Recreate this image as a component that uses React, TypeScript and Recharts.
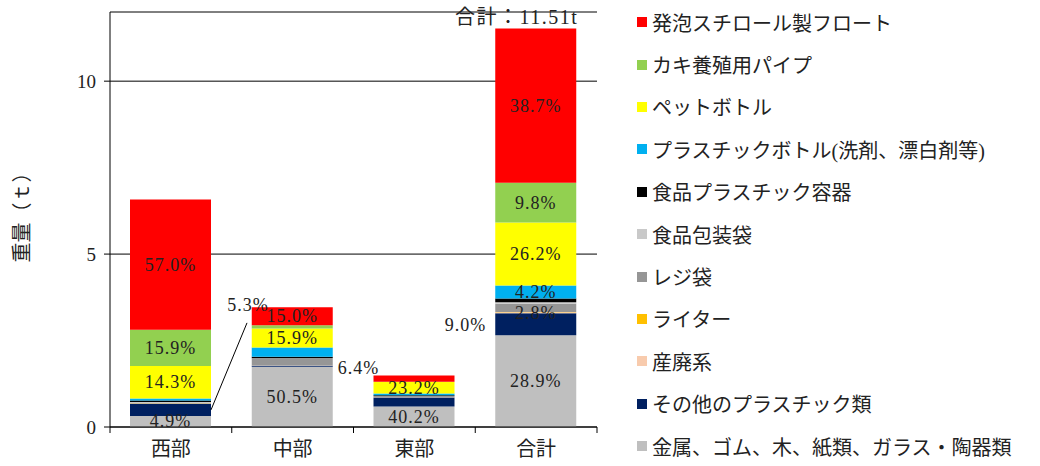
import React from 'react';
import {
  BarChart,
  Bar,
  XAxis,
  YAxis,
  CartesianGrid,
  Legend,
  LabelList,
} from 'recharts';

const FONT = "'Liberation Serif', 'Noto Sans CJK JP', serif";
const TEXT = '#222';

// categories along the x axis
const categories = ['西部', '中部', '東部', '合計'];

// weights (t), bottom of the stack first
const metalEtc = [0.32, 1.74, 0.59, 2.65];
const otherPlastic = [0.35, 0.03, 0.26, 0.64];
const industrial = [0.01, 0.005, 0.01, 0.025];
const lighter = [0.005, 0.005, 0, 0.01];
const shoppingBag = [0.02, 0.2, 0.02, 0.24];
const foodBag = [0.02, 0.01, 0.01, 0.04];
const foodContainer = [0.04, 0.04, 0.03, 0.11];
const plasticBottle = [0.06, 0.27, 0.05, 0.38];
const petBottle = [0.94, 0.55, 0.33, 1.82];
const oysterPipe = [1.05, 0.09, 0.01, 1.15];
const styrofoam = [3.76, 0.52, 0.18, 4.46];

// percentage labels shown on the bars
const metalLabels = ['4.9%', '50.5%', '40.2%', '28.9%'];
const otherPlasticLabels = ['5.3%', '', '', '9.0%'];
const shoppingBagLabels = ['', '6.4%', '', '2.8%'];
const plasticBottleLabels = ['', '', '', '4.2%'];
const petLabels = ['14.3%', '15.9%', '23.2%', '26.2%'];
const oysterLabels = ['15.9%', '', '', '9.8%'];
const styrofoamLabels = ['57.0%', '15.0%', '', '38.7%'];
const totalLabels = ['', '', '', '合計：11.51t'];

const series = [
  { key: 'metal', name: '金属、ゴム、木、紙類、ガラス・陶器類', color: '#BFBFBF', values: metalEtc, labels: metalLabels },
  { key: 'other', name: 'その他のプラスチック類', color: '#002060', values: otherPlastic, labels: otherPlasticLabels },
  { key: 'industrial', name: '産廃系', color: '#F8CBAD', values: industrial, labels: null },
  { key: 'lighter', name: 'ライター', color: '#FFC000', values: lighter, labels: null },
  { key: 'shopbag', name: 'レジ袋', color: '#969696', values: shoppingBag, labels: shoppingBagLabels },
  { key: 'foodbag', name: '食品包装袋', color: '#C9C9C9', values: foodBag, labels: null },
  { key: 'container', name: '食品プラスチック容器', color: '#000000', values: foodContainer, labels: null },
  { key: 'pbottle', name: 'プラスチックボトル(洗剤、漂白剤等)', color: '#00B0F0', values: plasticBottle, labels: plasticBottleLabels },
  { key: 'pet', name: 'ペットボトル', color: '#FFFF00', values: petBottle, labels: petLabels },
  { key: 'oyster', name: 'カキ養殖用パイプ', color: '#92D050', values: oysterPipe, labels: oysterLabels },
  { key: 'styro', name: '発泡スチロール製フロート', color: '#FF0000', values: styrofoam, labels: styrofoamLabels },
];

const data = categories.map((name, i) => {
  const row: Record<string, any> = { name };
  series.forEach(s => {
    row[s.key] = s.values[i];
  });
  return row;
});

const W = 1040;
const H = 466;
const MARGIN = { top: 12, right: 443, bottom: 9, left: 50 };
const Y_WIDTH = 60;
const BAND = (W - MARGIN.left - MARGIN.right - Y_WIDTH) / categories.length;

// labels drawn outside of their segment
const OUTSIDE: Record<string, string> = {
  'other-0': 'leader',
  'shopbag-1': 'right',
  'other-3': 'left',
};
const NUDGE: Record<string, number> = { 'shopbag-3': 5 };

const boxOf = (p: any) =>
  p.viewBox && p.viewBox.width != null ? p.viewBox : p;

const makeLabel = (key: string, texts: string[]) => (p: any) => {
  const i = p.index;
  const t = texts[i];
  if (!t) return null;
  const { x, y, width, height } = boxOf(p);
  const cx = x + width / 2;
  const cy = y + height / 2;
  const mode = OUTSIDE[`${key}-${i}`];
  const common = {
    fontFamily: FONT,
    fontSize: 18,
    letterSpacing: 1,
    fill: TEXT,
    dominantBaseline: 'central' as const,
  };
  if (mode === 'leader') {
    return (
      <g>
        <line x1={x + width} y1={cy} x2={x + width + 36} y2={cy - 87} stroke="#000" strokeWidth={1} />
        <text x={x + width + 37} y={cy - 105} textAnchor="middle" {...common}>{t}</text>
      </g>
    );
  }
  if (mode === 'right') {
    return <text x={x + width + 5} y={cy + 6} textAnchor="start" {...common}>{t}</text>;
  }
  if (mode === 'left') {
    return <text x={x - 9} y={cy + 1} textAnchor="end" {...common}>{t}</text>;
  }
  return <text x={cx} y={cy + (NUDGE[`${key}-${i}`] || 0)} textAnchor="middle" {...common}>{t}</text>;
};

const totalLabel = (p: any) => {
  const t = totalLabels[p.index];
  if (!t) return null;
  const { x, y, width } = boxOf(p);
  return (
    <text x={x + width / 2 - 19} y={y - 11} textAnchor="middle" dominantBaseline="central"
      fontFamily={FONT} fontSize={20} letterSpacing={1.5} fill={TEXT}>
      {t}
    </text>
  );
};

const CategoryTick = (p: any) => {
  const { x, y, payload, index } = p;
  const axisY = y - 8;
  const left = x - BAND / 2;
  const right = x + BAND / 2;
  return (
    <g>
      <line x1={left} y1={axisY} x2={left} y2={axisY + 6} stroke="#000" />
      {index === categories.length - 1 && (
        <line x1={right} y1={axisY} x2={right} y2={axisY + 6} stroke="#000" />
      )}
      <text x={x} y={axisY + 22} textAnchor="middle" dominantBaseline="central"
        fontFamily={FONT} fontSize={20} fill={TEXT}>
        {payload.value}
      </text>
    </g>
  );
};

const YLabel = (p: any) => {
  const vb = p.viewBox;
  const x = vb.x - 28;
  const y = vb.y + vb.height / 2 - 7;
  return (
    <text x={x} y={y} transform={`rotate(-90, ${x}, ${y})`} textAnchor="middle"
      dominantBaseline="central" fontFamily={FONT} fontSize={20}
      style={{ fill: TEXT, stroke: 'none' }}>
      重量（ｔ）
    </text>
  );
};

const LegendBox = () => (
  <div style={{ fontFamily: FONT, fontSize: 20, color: TEXT }}>
    {[...series].reverse().map(s => (
      <div key={s.key} style={{ height: 42.4, display: 'flex', alignItems: 'center', whiteSpace: 'nowrap' }}>
        <span style={{ display: 'inline-block', width: 10, height: 10, background: s.color, marginRight: 5 }} />
        <span>{s.name}</span>
      </div>
    ))}
  </div>
);

export default function App() {
  return (
    <div style={{ position: 'absolute', left: 0, top: 0, background: '#fff' }}>
      <BarChart width={W} height={H} data={data} margin={MARGIN}>
        <CartesianGrid vertical={false} stroke="#000" />
        <XAxis
          dataKey="name"
          interval={0}
          tickLine={false}
          axisLine={{ stroke: '#000' }}
          tick={<CategoryTick />}
          tickSize={6}
          tickMargin={2}
          height={30}
        />
        <YAxis
          type="number"
          domain={[0, 12]}
          ticks={[0, 5, 10]}
          width={Y_WIDTH}
          axisLine={{ stroke: '#000' }}
          tickLine={{ stroke: '#000' }}
          tickSize={6}
          tickMargin={8}
          tick={{ fontFamily: FONT, fontSize: 19, fill: TEXT }}
          label={<YLabel />}
        />
        <Legend
          layout="vertical"
          align="center"
          verticalAlign="middle"
          content={<LegendBox />}
          wrapperStyle={{ left: 637, top: 1, width: 400, height: 466 }}
        />
        {series.map(s => (
          <Bar key={s.key} dataKey={s.key} name={s.name} stackId="a" fill={s.color}
            barSize={81} isAnimationActive={false}>
            {s.labels && (
              <LabelList dataKey={s.key} content={makeLabel(s.key, s.labels)} />
            )}
            {s.key === 'styro' && <LabelList dataKey={s.key} content={totalLabel} />}
          </Bar>
        ))}
      </BarChart>
    </div>
  );
}
